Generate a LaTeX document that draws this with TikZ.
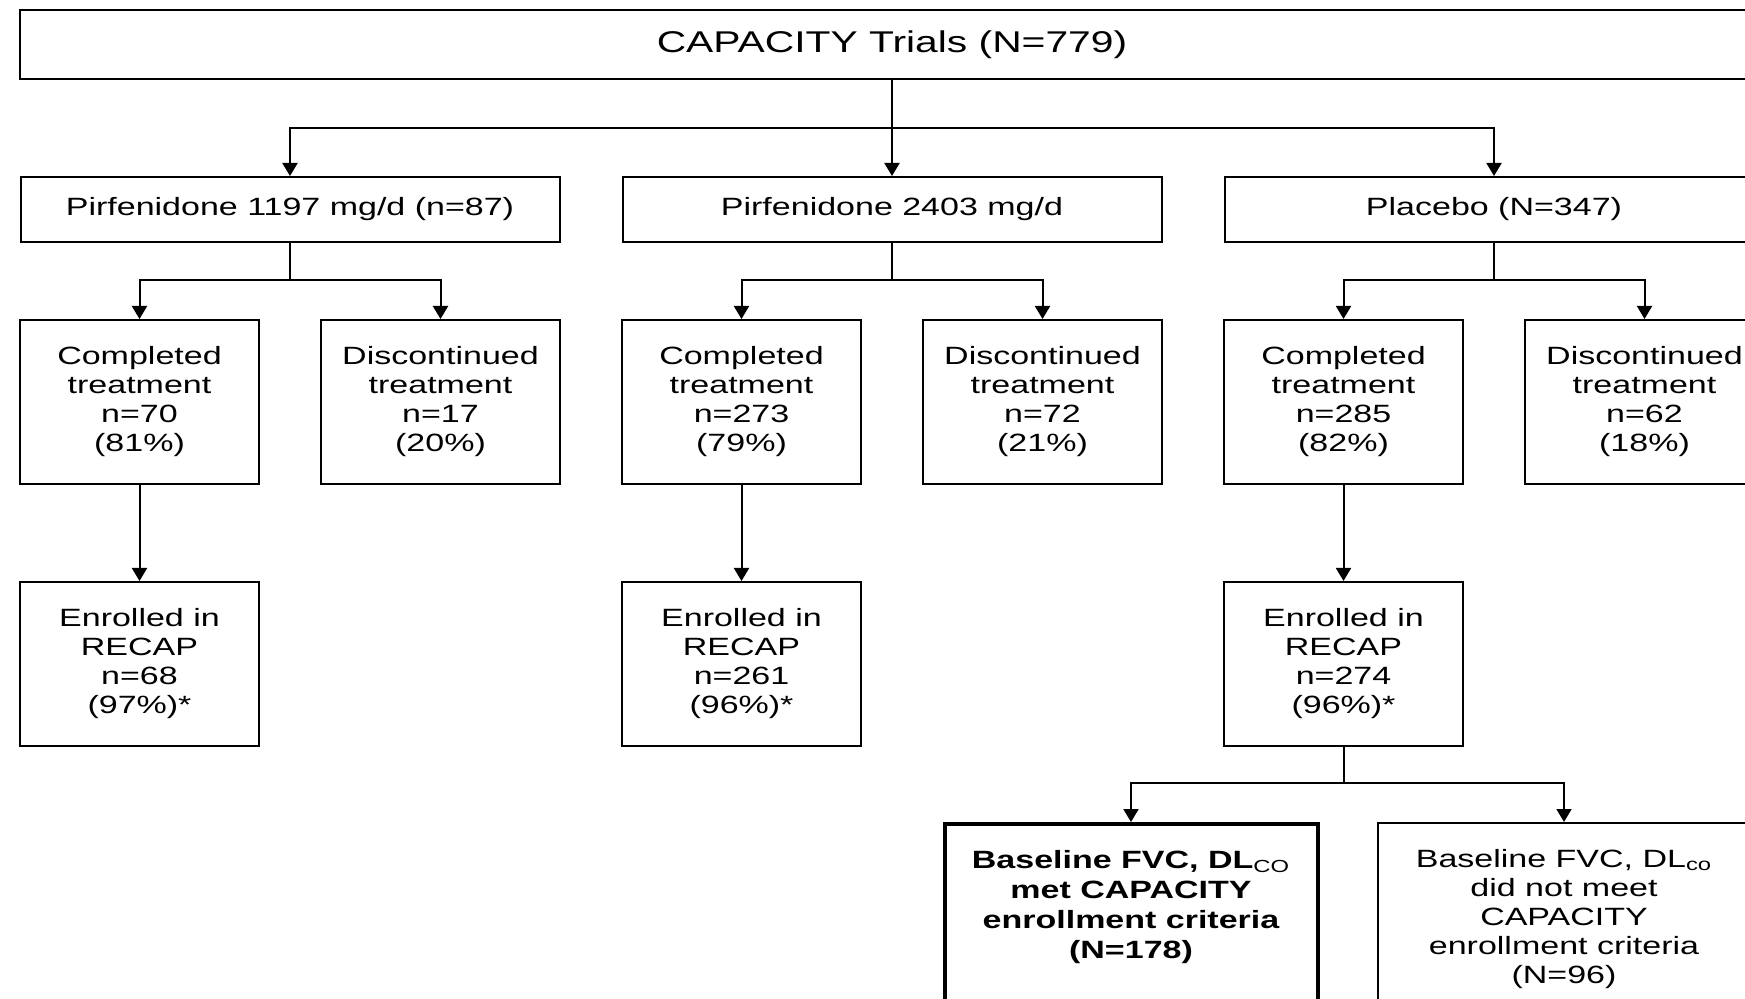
\documentclass[tikz,border=0pt]{standalone}
\usepackage{fontspec}
\setmainfont{Liberation Sans}[FakeStretch=1.36]
\usetikzlibrary{arrows.meta}
\tikzset{
	box/.style = {
		align=center,
		draw=black,
		line width=1pt,
		inner sep=0pt,
		font=\fontsize{12.5}{14.5}\selectfont,
		anchor=north
	},
	node_top/.style = {
		box,
		minimum width=872pt,
		minimum height=34.5pt,
		font=\fontsize{15}{17}\selectfont
	},
	node_arm/.style = {
		box,
		minimum width=269.5pt,
		minimum height=32.5pt
	},
	node_count/.style = {
		box,
		minimum width=119.5pt,
		minimum height=82pt
	},
	node_split/.style = {
		box,
		minimum width=186.5pt,
		inner ysep=13pt,
		text depth=60pt
	},
	node_split_bold/.style = {
		node_split,
		line width=2pt,
		font=\fontsize{12.5}{15}\selectfont\bfseries
	},
	elbow/.style = {
		edge from parent path={(\tikzparentnode.south) -- ++(0,-#1) -| (\tikzchildnode.north)}
	},
}

\begin{document}
\begin{tikzpicture}[x=0.5pt,y=0.5pt,->,>={Triangle[width=7.5pt,length=6.5pt]},line width=1pt,growth parent anchor=north,
	level 1/.style={sibling distance=301pt, level distance=83.5pt, elbow=24pt},
	level 2/.style={sibling distance=150.5pt, level distance=71.5pt, elbow=18.5pt},
	level 3/.style={level distance=131pt, elbow=20pt},
	level 4/.style={sibling distance=212.5pt, level distance=120.5pt, elbow=18pt}]
\useasboundingbox (0,0) rectangle (1745,-999);
\clip (0,0) rectangle (1745,-999);
\node [node_top] (trials) at (892,-9) {CAPACITY Trials (N=779)}
child {
	node [node_arm] (low) {Pirfenidone 1197 mg/d (n=87)}
	child {
		node [node_count] (low_done) {Completed\\treatment\\n=70\\(81\%)}
		child {
			node [node_count] (low_recap) {Enrolled in\\RECAP\\n=68\\(97\%)*}
		}
	}
	child {
		node [node_count] (low_stop) {Discontinued\\treatment\\n=17\\(20\%)}
	}
}
child {
	node [node_arm] (high) {Pirfenidone 2403 mg/d}
	child {
		node [node_count] (high_done) {Completed\\treatment\\n=273\\(79\%)}
		child {
			node [node_count] (high_recap) {Enrolled in\\RECAP\\n=261\\(96\%)*}
		}
	}
	child {
		node [node_count] (high_stop) {Discontinued\\treatment\\n=72\\(21\%)}
	}
}
child {
	node [node_arm] (placebo) {Placebo (N=347)}
	child {
		node [node_count] (placebo_done) {Completed\\treatment\\n=285\\(82\%)}
		child {
			node [node_count] (placebo_recap) {Enrolled in\\RECAP\\n=274\\(96\%)*}
			child {
				node [node_split_bold] (met) {Baseline FVC, DL\textsubscript{\mdseries CO}\\met CAPACITY\\enrollment criteria\\(N=178)}
			}
			child [xshift=4pt] {
				node [node_split] (not_met) {Baseline FVC, DL\textsubscript{co}\\did not meet\\CAPACITY\\enrollment criteria\\(N=96)}
			}
		}
	}
	child {
		node [node_count] (placebo_stop) {Discontinued\\treatment\\n=62\\(18\%)}
	}
}
;
\end{tikzpicture}
\end{document}
